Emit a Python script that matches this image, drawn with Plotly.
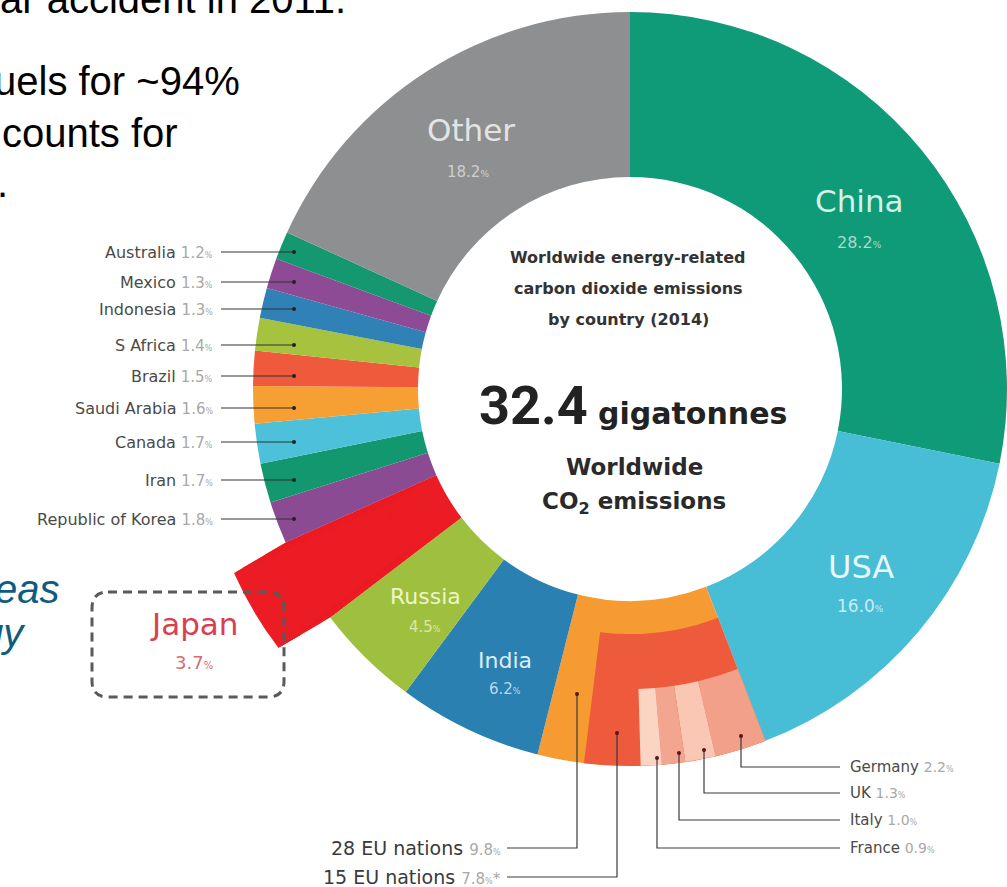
import math
import plotly.graph_objects as go

W, H = 1007, 887

# ---------------- data ----------------
countries = ["China", "USA", "28 EU nations", "India", "Russia", "Japan",
             "Republic of Korea", "Iran", "Canada", "Saudi Arabia", "Brazil",
             "S Africa", "Indonesia", "Mexico", "Australia", "Other"]
shares = [28.2, 16.0, 9.8, 6.2, 4.5, 3.7, 1.8, 1.7, 1.7, 1.6, 1.5, 1.4, 1.3, 1.3, 1.2, 18.2]
slice_colors = ["#0f9a78", "#47bdd6", "#f69b31", "#2b80b2", "#9fc03e", "#ec1c24",
                "#8b4b93", "#13976f", "#4dc1da", "#f6a033", "#ee5a3b", "#a6c23f",
                "#2f81b6", "#8d4a95", "#15976f", "#8e8f91"]

eu15_label = "15 EU nations"
eu15_share = 7.8
eu15_color = "#ee5a3c"

eu_members = ["Germany", "UK", "Italy", "France"]
eu_member_shares = [2.2, 1.3, 1.0, 0.9]
eu_member_colors = ["#f3a08a", "#f9c7b3", "#f2a58f", "#fbd4c3"]

left_labels = ["Australia", "Mexico", "Indonesia", "S Africa", "Brazil",
               "Saudi Arabia", "Canada", "Iran", "Republic of Korea"]
left_values = [1.2, 1.3, 1.3, 1.4, 1.5, 1.6, 1.7, 1.7, 1.8]

total_gt = "32.4"

# ---------------- geometry ----------------
CX, CY, R = 630, 389, 377
HOLE_MAIN = 212 / R
HOLE_EU15 = 245 / R
HOLE_MEMBERS = 300 / R
JAPAN_PULLS = list(range(2, 61, 2))
TR = "rgba(0,0,0,0)"
FONT = "DejaVu Sans"

total = sum(shares)


def dom(cx, cy, r):
    x0 = max(0.0, (cx - r) / W)
    x1 = min(1.0, (cx + r) / W)
    y0 = max(0.0, 1 - (cy + r) / H)
    y1 = min(1.0, 1 - (cy - r) / H)
    return dict(x=[x0, x1], y=[y0, y1])


common = dict(sort=False, direction="clockwise", rotation=0, textinfo="none",
              hoverinfo="skip", showlegend=False)

fig = go.Figure()

# invisible trace to create pixel-mapped axes
fig.add_trace(go.Scatter(x=[0], y=[0], mode="markers", marker=dict(opacity=0),
                         hoverinfo="skip", showlegend=False))

# main ring
fig.add_trace(go.Pie(labels=countries, values=shares, hole=HOLE_MAIN,
                     marker=dict(colors=slice_colors, line=dict(width=0)),
                     domain=dom(CX, CY, R), **common))

# 15 EU nations nested band
n_before = sum(shares[:2])
fig.add_trace(go.Pie(labels=["a", "b", eu15_label, "rest"],
                     values=shares[:2] + [eu15_share, total - n_before - eu15_share],
                     hole=HOLE_EU15,
                     marker=dict(colors=[TR, TR, eu15_color, TR], line=dict(width=0)),
                     domain=dom(CX, CY, R), **common))

# individual EU members
fig.add_trace(go.Pie(labels=["before"] + eu_members + ["rest"],
                     values=[n_before] + eu_member_shares + [total - n_before - sum(eu_member_shares)],
                     hole=HOLE_MEMBERS,
                     marker=dict(colors=[TR] + eu_member_colors + [TR], line=dict(width=0)),
                     domain=dom(CX, CY, R), **common))

# Japan highlighted (pulled copies make an extended wedge)
j = countries.index("Japan")
mid = (sum(shares[:j]) + shares[j] / 2) / total * 2 * math.pi
for pull in JAPAN_PULLS:
    jcx = CX + pull * math.sin(mid)
    jcy = CY - pull * math.cos(mid)
    fig.add_trace(go.Pie(labels=countries, values=shares, hole=HOLE_MAIN,
                         marker=dict(colors=[slice_colors[j] if i == j else TR for i in range(len(shares))],
                                     line=dict(width=0)),
                         domain=dom(jcx, jcy, R), **common))

annotations = []
shapes = []


def ann(x, y, text, size, color, xanchor="center", family=FONT, italic=False, yshift=0):
    annotations.append(dict(x=x, y=y, xref="x", yref="y", text=("<i>%s</i>" % text) if italic else text,
                            showarrow=False, xanchor=xanchor, yanchor="middle", yshift=yshift,
                            font=dict(size=size, color=color, family=family)))


def pct(v, small=8, fmt="%.1f"):
    return (fmt % v) + '<span style="font-size:%dpx">%%</span>' % small


# slide text (cropped)
SL = "Liberation Sans, Arial"
ann(348, 1, "ar accident in 2011.", 40, "#000", "right", SL, yshift=2)
ann(242, 81, "uels for ~94%", 40, "#000", "right", SL)
ann(180, 133, "counts for", 40, "#000", "right", SL)
ann(10, 183, ".", 40, "#000", "right", SL)
ann(62, 589, "eas", 40, "#105c80", "right", SL, italic=True)
ann(28, 633, "gy", 40, "#105c80", "right", SL, italic=True)

# slice labels
ann(471, 130, "Other", 31, "#e4e4e4")
ann(468, 172, pct(18.2, 9), 15, "#cfcfcf")
ann(859, 201, "China", 31, "#d3f1e6")
ann(859, 242, pct(28.2, 9), 16, "#a9dbc9")
ann(861, 567, "USA", 32, "#eaf8fb")
ann(860, 606, pct(16.0, 9), 17, "#c9edf5")
ann(505, 660, "India", 22, "#dcedf8")
ann(505, 689, pct(6.2, 8), 15, "#b9d8ea")
ann(425, 596, "Russia", 22, "#eef4cc")
ann(425, 627, pct(4.5, 8), 15, "#dce7a6")
ann(194, 624, "Japan", 31, "#d8404e")
ann(194, 662, pct(3.7, 10), 18, "#d96a75")

# centre text
ann(628, 257, "<b>Worldwide energy-related</b>", 16, "#333")
ann(628, 288, "<b>carbon dioxide emissions</b>", 16, "#333")
ann(628, 319, "<b>by country (2014)</b>", 16, "#333")
ann(633, 405, '<b><span style="font-family:Roboto;font-size:54px">%s</span> gigatonnes</b>' % total_gt,
    30, "#222")
ann(634, 467, "<b>Worldwide</b>", 23, "#2a2a2a")
ann(634, 503, "<b>CO<sub>2</sub> emissions</b>", 23, "#2a2a2a")

# left leader labels
left_y = [252, 282, 309, 345, 376, 408, 442, 480, 519]
for name, v, y in zip(left_labels, left_values, left_y):
    ann(215, y, '%s <span style="color:#a8a8a8;font-size:15px">%s</span>' % (name, pct(v, 8)),
        16, "#4a4a4a", "right")
    shapes.append(dict(type="line", xref="x", yref="y", x0=221, x1=294, y0=y, y1=y,
                       line=dict(color="#333", width=1.2)))
    shapes.append(dict(type="circle", xref="x", yref="y", x0=292, x1=296, y0=y - 2, y1=y + 2,
                       fillcolor="#222", line=dict(width=0)))

# bottom leaders
# (label, value, dot x, dot y, bend y, end x, side, suffix)
bottom = [
    ("28 EU nations", shares[2], 577, 694, 848, 507, "left", ""),
    (eu15_label, eu15_share, 617, 733, 877, 507, "left", "*"),
    (eu_members[0], eu_member_shares[0], 741, 736, 767, 840, "right", ""),
    (eu_members[1], eu_member_shares[1], 704, 750, 793, 840, "right", ""),
    (eu_members[2], eu_member_shares[2], 679, 753, 820, 840, "right", ""),
    (eu_members[3], eu_member_shares[3], 657, 758, 848, 840, "right", ""),
]
for name, v, dx, dy, by, ex, side, star in bottom:
    shapes.append(dict(type="path", xref="x", yref="y",
                       path="M %f %f L %f %f L %f %f" % (dx, dy, dx, by, ex, by),
                       line=dict(color="#3a3a3a", width=1.2)))
    shapes.append(dict(type="circle", xref="x", yref="y", x0=dx - 2, x1=dx + 2, y0=dy - 2, y1=dy + 2,
                       fillcolor="#5a1515", line=dict(width=0)))
    if side == "left":
        ann(ex - 4, by, '%s <span style="color:#a8a8a8;font-size:15px">%s%s</span>' % (name, pct(v, 8), star),
            19, "#3a3a3a", "right")
    else:
        ann(ex + 8, by, '%s <span style="color:#a8a8a8;font-size:14px">%s</span>' % (name, pct(v, 8)),
            15, "#4a4a4a", "left")

# dashed rounded box around Japan label
x0, y0, x1, y1, rr = 92, 592, 284, 697, 16
shapes.append(dict(type="path", xref="x", yref="y",
                   path=("M %d %d L %d %d Q %d %d %d %d L %d %d Q %d %d %d %d "
                         "L %d %d Q %d %d %d %d L %d %d Q %d %d %d %d Z") % (
                       x0 + rr, y0, x1 - rr, y0, x1, y0, x1, y0 + rr, x1, y1 - rr, x1, y1, x1 - rr, y1,
                       x0 + rr, y1, x0, y1, x0, y1 - rr, x0, y0 + rr, x0, y0, x0 + rr, y0),
                   line=dict(color="#5a5a5a", width=3, dash="9px,6px")))

fig.update_layout(
    width=W, height=H, margin=dict(l=0, r=0, t=0, b=0),
    paper_bgcolor="white", plot_bgcolor="rgba(0,0,0,0)",
    xaxis=dict(range=[0, W], visible=False, fixedrange=True, domain=[0, 1]),
    yaxis=dict(range=[H, 0], visible=False, fixedrange=True, domain=[0, 1]),
    annotations=annotations, shapes=shapes, showlegend=False,
)

fig.write_html("out.html", config={"displayModeBar": False},
               post_script="document.body.style.margin='0px';document.body.style.overflow='hidden';")
